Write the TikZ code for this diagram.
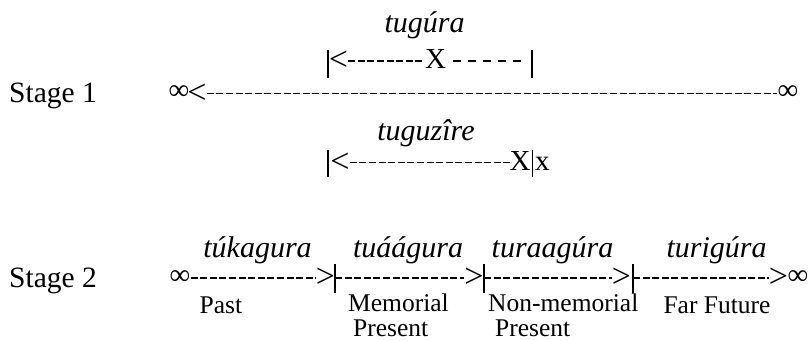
\documentclass[tikz,border=0pt]{standalone}
\usepackage{fontspec}
\setmainfont{Liberation Serif}
\tikzset{
  lbl/.style={inner sep=0pt, anchor=base, font=\fontsize{25.5}{27}\selectfont},
  twolbl/.style={inner sep=0pt, anchor=base west, align=left, font=\fontsize{25.5}{24.5}\selectfont},
  ital/.style={inner sep=0pt, anchor=base, font=\fontsize{30}{32}\selectfont\itshape},
  stagelbl/.style={inner sep=0pt, anchor=base west, font=\fontsize{29.5}{31}\selectfont},
  glyph/.style={inner sep=0pt, font=\fontsize{34}{36}\selectfont},
  infnode/.style={inner sep=0pt, font=\fontsize{29}{30}\selectfont},
  markX/.style={inner sep=0pt, anchor=base west, font=\fontsize{29}{30}\selectfont},
  dashline/.style={line width=1.7pt, dash pattern=on 7pt off 2.6pt},
  sparse/.style={line width=1.7pt, dash pattern=on 8pt off 7pt},
  barline/.style={line width=1.4pt},
}
\begin{document}
\begin{tikzpicture}[x=1pt,y=-1pt]
\useasboundingbox (0,0) rectangle (808,340);

% ---------- Stage 1 ----------
\node[stagelbl] (s1) at (9,102) {Stage 1};
\node[infnode] (infL1) at (179,93) {∞};
\node[glyph] (lt1) at (197,93.5) {<};
\node[infnode] (infR1) at (788,93) {∞};
\draw[dashline] (lt1.east) -- (lt1.east -| infR1.west);

% tugura span
\node[ital] (tugura) at (424.5,32) {tugúra};
\coordinate (b1a) at (328,50);
\coordinate (b1b) at (328,78);
\draw[barline] (b1a) -- (b1b);
\node[glyph] (lt2) at (338.5,61) {<};
\node[markX] (X1) at (425,68) {X};
\draw[dashline] (lt2.east) -- (lt2.east -| X1.west);
\coordinate (b2a) at (532,50);
\coordinate (b2b) at (532,78);
\draw[barline] (b2a) -- (b2b);
\draw[sparse, shorten <=7pt, shorten >=10pt] (X1.east |- lt2.east) -- (b2a |- lt2.east);

% tuguzire span
\node[ital] (tuguzire) at (426,140) {tuguzîre};
\coordinate (b3a) at (328,150);
\coordinate (b3b) at (328,177);
\draw[barline] (b3a) -- (b3b);
\node[glyph] (lt3) at (340,162.5) {<};
\node[markX] (X2) at (509.5,170) {X};
\coordinate (b4a) at (532.5,150);
\coordinate (b4b) at (532.5,177);
\draw[barline] (b4a) -- (b4b);
\node[markX] (x2) at (535,170) {x};
\draw[dashline] (lt3.east) -- (lt3.east -| X2.west);

% ---------- Stage 2 ----------
\node[stagelbl] (s2) at (9,287) {Stage 2};
\node[infnode] (infL2) at (180,278) {∞};
\node[glyph] (gt1) at (325.5,278) {>};
\coordinate (c1t) at (335,264);
\coordinate (c1b) at (335,293);
\draw[barline] (c1t) -- (c1b);
\node[glyph] (gt2) at (474,278) {>};
\coordinate (c2t) at (484,264);
\coordinate (c2b) at (484,293);
\draw[barline] (c2t) -- (c2b);
\node[glyph] (gt3) at (621.5,278) {>};
\coordinate (c3t) at (633,264);
\coordinate (c3b) at (633,293);
\draw[barline] (c3t) -- (c3b);
\node[glyph] (gt4) at (778.5,278) {>};
\node[infnode] (infR2) at (798,278) {∞};

\draw[dashline] (infL2.east) -- (infL2.east -| gt1.west);
\draw[dashline] (c1t |- gt2.west) -- (gt2.west);
\draw[dashline] (c2t |- gt3.west) -- (gt3.west);
\draw[dashline] (c3t |- gt4.west) -- (gt4.west);

\node[ital] (tukagura) at (257.5,257) {túkagura};
\node[ital] (tuaagura) at (408,257) {tuáágura};
\node[ital] (turaagura) at (552.5,257) {turaagúra};
\node[ital] (turigura) at (716.5,257) {turigúra};

\node[lbl] (past) at (221,313) {Past};
\node[twolbl] (memo) at (348,336) {Memorial\\\hspace*{5pt}Present};
\node[twolbl] (nonmemo) at (488,336) {Non-memorial\\\hspace*{7pt}Present};
\node[lbl] (far) at (717,313) {Far Future};
\end{tikzpicture}
\end{document}
